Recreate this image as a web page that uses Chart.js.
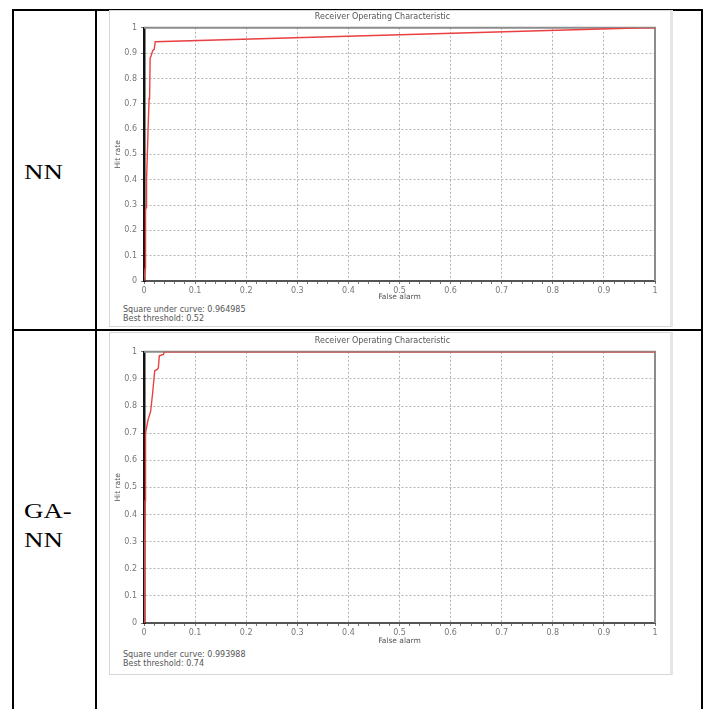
<!DOCTYPE html>
<html>
<head>
<meta charset="utf-8">
<script src="https://cdn.jsdelivr.net/npm/chart.js@4/dist/chart.umd.min.js"></script>
<style>
body { margin:0; background:#fff; width:706px; height:709px; overflow:hidden; position:relative; font-family:"DejaVu Sans", sans-serif; }
.line { position:absolute; background:#000; }
.label { position:absolute; left:24px; font-family:"Liberation Serif", "Times New Roman", serif; font-size:21px; line-height:29px; color:#000; transform:scaleX(1.28); transform-origin:left top; }
.panel { position:absolute; left:109px; width:560px; background:#fff; border:1px solid #d6d6d6; border-right:3px solid #e6e6e6; }
.panel canvas { position:absolute; left:0; top:0; }
.note { position:absolute; left:13px; font-size:8px; line-height:8.5px; color:#555; white-space:nowrap; }
</style>
</head>
<body>
<!-- table rules -->
<div class="line" style="left:12px; top:9px; width:691px; height:2px;"></div>
<div class="line" style="left:12px; top:9px; width:2px; height:700px;"></div>
<div class="line" style="left:95px; top:9px; width:2px; height:700px;"></div>
<div class="line" style="left:701px; top:9px; width:2px; height:700px;"></div>
<div class="line" style="left:12px; top:329px; width:691px; height:2px;"></div>

<div class="label" style="top:158px;">NN</div>
<div class="label" style="top:497px;">GA-<br>NN</div>

<div class="panel" style="top:10px; height:315px;">
  <canvas id="nnChart" width="560" height="292"></canvas>
  <div class="note" style="top:295px;">Square under curve: 0.964985<br>Best threshold: 0.52</div>
</div>

<div class="panel" style="top:332px; height:341px;">
  <canvas id="gaChart" width="560" height="314"></canvas>
  <div class="note" style="top:318px;">Square under curve: 0.993988<br>Best threshold: 0.74</div>
</div>

<script>
const tickLabels = ['0', '0.1', '0.2', '0.3', '0.4', '0.5', '0.6', '0.7', '0.8', '0.9', '1'];

const nnFalseAlarm = [0, 0.002, 0.003, 0.004, 0.005, 0.008, 0.010, 0.011, 0.012, 0.014, 0.017, 0.020, 0.022, 0.98, 1];
const nnHitRate    = [0, 0.05, 0.28, 0.29, 0.40, 0.60, 0.72, 0.73, 0.88, 0.89, 0.91, 0.915, 0.945, 1, 1];

const gaFalseAlarm = [0, 0.001, 0.002, 0.003, 0.008, 0.013, 0.017, 0.021, 0.026, 0.028, 0.030, 0.038, 0.040, 0.043, 1];
const gaHitRate    = [0, 0.20, 0.45, 0.70, 0.75, 0.78, 0.85, 0.93, 0.935, 0.94, 0.985, 0.99, 1, 1, 1];

function isMajor(v) {
    return Math.abs(v * 10 - Math.round(v * 10)) < 1e-6;
}

// gray frame on top and right of the plot
const framePlugin = {
    id: 'frame',
    beforeDatasetsDraw(chart) {
        const a = chart.chartArea;
        const ctx = chart.ctx;
        ctx.save();
        ctx.strokeStyle = '#8c8c8c';
        ctx.lineWidth = 2;
        ctx.beginPath();
        ctx.moveTo(a.left, a.top);
        ctx.lineTo(a.right, a.top);
        ctx.lineTo(a.right, a.bottom);
        ctx.stroke();
        ctx.restore();
    }
};

function rocChart(id, falseAlarm, hitRate, titleTop, areaBottom) {
    const ctx = document.getElementById(id).getContext('2d');
    const h = ctx.canvas.height;
    return new Chart(ctx, {
        type: 'line',
        data: {
            datasets: [{
                data: falseAlarm.map((x, i) => ({ x: x, y: hitRate[i] })),
                borderColor: 'rgb(234, 64, 64)',
                borderWidth: 1.4,
                pointRadius: 0,
                tension: 0
            }]
        },
        options: {
            responsive: false,
            animation: false,
            layout: { padding: { top: 0, right: 15, left: 0, bottom: 0 } },
            plugins: {
                legend: { display: false },
                tooltip: { enabled: false },
                title: {
                    display: true,
                    text: 'Receiver Operating Characteristic',
                    color: '#555',
                    font: { family: 'DejaVu Sans', size: 8, weight: 'normal', lineHeight: 1.1 },
                    padding: { top: titleTop, bottom: 6 }
                }
            },
            scales: {
                x: {
                    type: 'linear',
                    min: 0,
                    max: 1,
                    afterFit: s => { s.height = h - areaBottom; },
                    ticks: {
                        stepSize: 0.02,
                        autoSkip: false,
                        maxRotation: 0,
                        padding: 2,
                        color: '#777',
                        font: { family: 'DejaVu Sans', size: 8 },
                        callback: v => isMajor(v) ? tickLabels[Math.round(v * 10)] : ''
                    },
                    grid: {
                        color: c => c.tick && isMajor(c.tick.value) ? '#b4b4b4' : 'transparent',
                        tickColor: '#777',
                        tickLength: 3
                    },
                    border: { color: '#555', width: 2, dash: [2, 2] },
                    title: {
                        display: true,
                        text: 'False alarm',
                        color: '#555',
                        font: { family: 'DejaVu Sans', size: 7.5 },
                        padding: { top: 0, bottom: 1 }
                    }
                },
                y: {
                    min: 0,
                    max: 1,
                    afterFit: s => { s.width = 34; },
                    ticks: {
                        stepSize: 0.1,
                        padding: 4,
                        color: '#777',
                        font: { family: 'DejaVu Sans', size: 8 },
                        callback: v => tickLabels[Math.round(v * 10)]
                    },
                    grid: {
                        color: '#b4b4b4',
                        tickColor: '#777',
                        tickLength: 3
                    },
                    border: { color: '#111', width: 2.5, dash: [2, 2] },
                    title: {
                        display: true,
                        text: 'Hit rate',
                        color: '#555',
                        font: { family: 'DejaVu Sans', size: 7.5 },
                        padding: { top: 4, bottom: 0 }
                    }
                }
            }
        },
        plugins: [framePlugin]
    });
}

rocChart('nnChart', nnFalseAlarm, nnHitRate, 2, 270);
rocChart('gaChart', gaFalseAlarm, gaHitRate, 4, 290);
</script>
</body>
</html>
